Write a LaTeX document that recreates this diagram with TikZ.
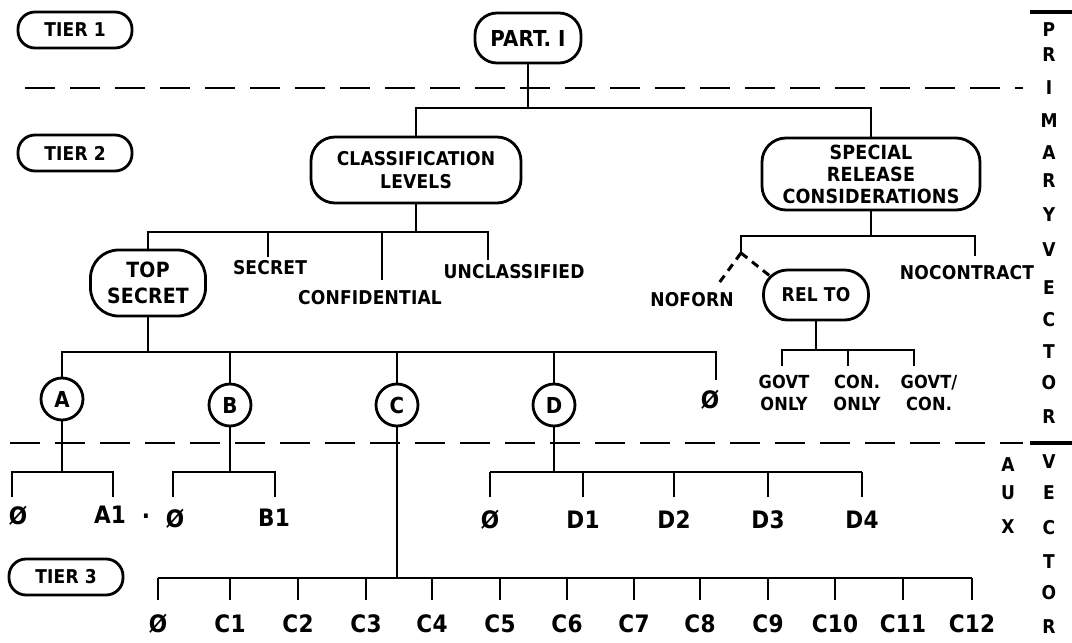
\documentclass[tikz,border=0pt]{standalone}
\usepackage{fontspec}
\setmainfont{DejaVu Sans Condensed}[LetterSpace=1]
\begin{document}
\begin{tikzpicture}[x=1pt,y=-1pt,
  ln/.style={line width=2.6pt},
  dsh/.style={line width=2.7pt, dash pattern=on 30pt off 15pt},
  sdsh/.style={line width=3pt, dash pattern=on 8pt off 6pt},
  bar/.style={line width=3.2pt},
  rbox/.style={draw, line width=2.8pt, rounded corners=17pt, align=center, inner sep=0pt, font=\fontsize{19}{23}\selectfont\bfseries},
  circ/.style={draw, circle, line width=2.8pt, minimum size=42pt, inner sep=0pt, font=\fontsize{22}{22}\selectfont\bfseries},
  txt/.style={inner sep=0pt, font=\fontsize{19}{22}\selectfont\bfseries, align=center},
  hw/.style={inner sep=0pt, font=\fontsize{24}{26}\selectfont\bfseries, align=center},
  hws/.style={inner sep=0pt, font=\fontsize{18}{22}\selectfont\bfseries, align=center},
  col/.style={inner sep=0pt, font=\fontsize{19}{19}\selectfont\bfseries},
]
\useasboundingbox (0,0) rectangle (1072,643);
% tier labels
\node[rbox, minimum width=114pt, minimum height=36pt] (t1) at (75,30) {TIER 1};
\node[rbox, minimum width=114pt, minimum height=36pt] (t2) at (75,153) {TIER 2};
\node[rbox, minimum width=114pt, minimum height=36pt] (t3) at (66,577) {TIER 3};
% tier 1
\node[rbox, minimum width=106pt, minimum height=50pt, rounded corners=22pt, font=\fontsize{22}{24}\selectfont\bfseries] (part) at (528,38) {PART. I};
% dashed separators
\coordinate (d1a) at (25,88); \coordinate (d1b) at (1023,88);
\draw[dsh] (d1a) -- (d1b);
\coordinate (d2a) at (10,443); \coordinate (d2b) at (1023,443);
\draw[dsh] (d2a) -- (d2b);
\coordinate (s1a) at (1030,12); \coordinate (s1b) at (1072,12);
\draw[bar] (s1a) -- (s1b);
\coordinate (s2a) at (1030,443); \coordinate (s2b) at (1072,443);
\draw[bar] (s2a) -- (s2b);
% tier 2
\node[rbox, minimum width=210pt, minimum height=66pt, rounded corners=24pt] (cls) at (416,170) {CLASSIFICATION\\LEVELS};
\node[rbox, minimum width=218pt, minimum height=72pt, rounded corners=24pt, font=\fontsize{19.5}{22}\selectfont\bfseries] (spc) at (871,174) {SPECIAL\\RELEASE\\CONSIDERATIONS};
\coordinate (b1) at (0,108);
\draw[ln] (part.south) -- (part.south |- b1);
\draw[ln] (cls.north) |- (spc.north |- b1) -- (spc.north);
% classification levels
\node[rbox, minimum width=115pt, minimum height=66pt, rounded corners=28pt, font=\fontsize{21}{26}\selectfont\bfseries] (ts) at (148,283) {TOP\\SECRET};
\node[txt] (sec) at (270,268) {SECRET};
\node[txt] (conf) at (370,298) {CONFIDENTIAL};
\node[txt] (uncl) at (514,272) {UNCLASSIFIED};
\coordinate (b2) at (0,232);
\coordinate (secT) at (268,257);
\coordinate (confT) at (382,280);
\coordinate (unclT) at (488,260);
\draw[ln] (cls.south) -- (cls.south |- b2);
\draw[ln] (ts.north) |- (unclT |- b2) -- (unclT);
\draw[ln] (secT) -- (secT |- b2);
\draw[ln] (confT) -- (confT |- b2);
% special release
\node[txt] (nof) at (692,300) {NOFORN};
\node[rbox, minimum width=105pt, minimum height=50pt, rounded corners=24pt] (rel) at (816,295) {REL TO};
\node[txt] (noc) at (967,273) {NOCONTRACT};
\coordinate (b2s) at (0,236);
\coordinate (split) at (741,253);
\coordinate (nocT) at (975,256);
\coordinate (nofT) at (719,283);
\coordinate (relT) at (770,276);
\draw[ln] (spc.south) -- (spc.south |- b2s);
\draw[ln] (split) |- (nocT |- b2s) -- (nocT);
\draw[sdsh] (split) -- (nofT);
\draw[sdsh] (split) -- (relT);
% rel to
\node[hws] (gv1) at (784,393) {GOVT\\ONLY};
\node[hws] (gv2) at (857,393) {CON.\\ONLY};
\node[hws] (gv3) at (929,393) {GOVT/\\CON.};
\coordinate (b3r) at (0,350);
\coordinate (g1) at (782,366);
\coordinate (g2) at (848,366);
\coordinate (g3) at (914,366);
\draw[ln] (rel.south) -- (rel.south |- b3r);
\draw[ln] (g1) |- (g3 |- b3r) -- (g3);
\draw[ln] (g2) -- (g2 |- b3r);
% top secret children
\node[circ] (a) at (62,399) {A};
\node[circ] (b) at (230,405) {B};
\node[circ] (c) at (397,405) {C};
\node[circ] (d) at (554,405) {D};
\node[hw] (tz) at (710,400) {Ø};
\coordinate (tzT) at (716,380);
\coordinate (b3) at (0,352);
\draw[ln] (ts.south) -- (ts.south |- b3);
\draw[ln] (a.north) |- (tzT |- b3) -- (tzT);
\draw[ln] (b.north) -- (b.north |- b3);
\draw[ln] (c.north) -- (c.north |- b3);
\draw[ln] (d.north) -- (d.north |- b3);
% A
\coordinate (ab) at (0,472);
\coordinate (a0T) at (12,497);
\coordinate (a1T) at (113,497);
\node[hw] (a0) at (18,516) {Ø};
\node[hw] (a1) at (110,515) {A1};
\node[hw] (dot) at (146,516) {.};
\draw[ln] (a.south) -- (a.south |- ab);
\draw[ln] (a0T) |- (a1T |- ab) -- (a1T);
% B
\coordinate (b0T) at (173,497);
\coordinate (b1T) at (275,497);
\node[hw] (bz) at (175,519) {Ø};
\node[hw] (bo) at (274,518) {B1};
\draw[ln] (b.south) -- (b.south |- ab);
\draw[ln] (b0T) |- (b1T |- ab) -- (b1T);
% D
\foreach \x/\n/\l in {490/dz/Ø, 583/d1/D1, 674/d2/D2, 768/d3/D3, 862/d4/D4}{
  \coordinate (\n T) at (\x,497);
  \node[hw] (\n) at (\x,520) {\l};
  \draw[ln] (\n T) -- (\n T |- ab);
}
\draw[ln] (d.south) -- (d.south |- ab);
\draw[ln] (dzT |- ab) -- (d4T |- ab);
% C
\coordinate (cb) at (0,578);
\foreach \x/\n/\l in {158/cz/Ø, 230/c1/C1, 298/c2/C2, 366/c3/C3, 432/c4/C4, 500/c5/C5, 567/c6/C6, 634/c7/C7, 700/c8/C8, 768/c9/C9, 835/c10/C10, 903/c11/C11, 972/c12/C12}{
  \coordinate (\n T) at (\x,600);
  \node[hw] (\n) at (\x,624) {\l};
  \draw[ln] (\n T) -- (\n T |- cb);
}
\draw[ln] (c.south) -- (c.south |- cb);
\draw[ln] (czT |- cb) -- (c12T |- cb);
% vertical labels
\foreach \y/\t [count=\i] in {30/P,55/R,88/I,121/M,153/A,181/R,215/Y,250/V,288/E,320/C,352/T,383/O,417/R}{
  \node[col] (pv\i) at (1049,\y) {\t};
}
\foreach \y/\t [count=\i] in {465/A,493/U,527/X}{
  \node[col] (ax\i) at (1008,\y) {\t};
}
\foreach \y/\t [count=\i] in {462/V,493/E,528/C,562/T,593/O,627/R}{
  \node[col] (av\i) at (1049,\y) {\t};
}
\end{tikzpicture}
\end{document}
